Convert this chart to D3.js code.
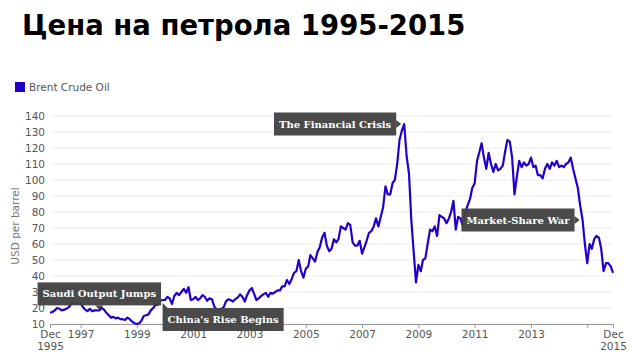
<!DOCTYPE html>
<html>
<head>
<meta charset="utf-8">
<script src="https://cdn.jsdelivr.net/npm/d3@7"></script>
<style>
  body { margin: 0; background: #fff; }
  svg { display: block; }
</style>
</head>
<body>
<svg id="chart" width="632" height="355"></svg>
<script>
// Monthly Brent price, starting Dec 1995
const firstMonth = new Date(1995, 11, 1);
const brent = [
  17,
  17.5, 18.5, 20, 19.5, 18.5, 19, 19.5, 20.5, 22.5, 23.5, 22.5, 23.5,
  23, 20.5, 19, 18, 19.5, 18, 18.5, 18.5, 18.5, 20, 19, 17,
  15.5, 14, 14.5, 13.5, 14, 13, 13, 12.5, 14, 13, 11.5, 10.5,
  10, 10.5, 12, 15, 15.5, 16, 18.5, 20, 22, 22, 24.5, 25,
  25, 27, 26, 22.5, 27.5, 29.5, 28, 30, 32, 29.5, 33, 25,
  25.5, 27, 25, 26, 28, 27, 24.5, 26, 25.5, 21, 19, 19,
  19.5, 20.5, 24, 25.5, 25, 24, 25.5, 26.5, 28.5, 27, 24, 28,
  31, 32.5, 29, 25, 26, 27.5, 28.5, 29.5, 27, 29.5, 29, 30,
  31, 31, 33.5, 33.5, 37.5, 35, 38, 42, 43, 50, 43, 39,
  44.5, 46, 53, 51, 49, 55, 58, 64, 67, 59, 55.5, 57,
  63, 61, 63, 71, 70, 69, 73, 72, 61, 59, 59, 62,
  54, 58, 62, 67, 68, 71, 76, 71, 77, 83, 96, 91,
  91, 98, 100, 110, 125, 131, 135, 115, 104, 75, 55, 36,
  47, 43, 50, 51, 60, 69, 68, 71, 65, 78, 77, 76,
  73, 76, 80, 87, 69, 77, 76, 71, 80, 84, 88, 95,
  98, 112, 117, 123, 114, 107, 117, 110, 105, 110, 106, 107,
  109, 118, 125, 124, 114, 91, 102, 112, 108, 111, 109, 110,
  114, 108, 109, 103, 103, 101, 107, 110, 107, 111, 109, 112,
  108, 109, 108, 110, 111, 114, 107, 101, 95, 84, 75, 60,
  48, 60, 57, 63, 65, 64, 57, 43, 48, 48, 46, 42
];

const yTicks = [10, 20, 30, 40, 50, 60, 70, 80, 90, 100, 110, 120, 130, 140];
const xTickMonths = ["1995-12", "1997-01", "1999-01", "2001-01", "2003-01", "2005-01", "2007-01",
                     "2009-01", "2011-01", "2013-01", "2015-01", "2015-12"];
const xTickLabels = ["Dec|1995", "1997", "1999", "2001", "2003", "2005", "2007",
                     "2009", "2011", "2013", "", "Dec|2015"];

const noteLabels = ["Saudi Output Jumps", "China's Rise Begins", "The Financial Crisis", "Market-Share War"];
const noteMonths = ["1997-09", "1999-12", "2008-07", "2014-11"];
const noteSides = ["top", "below-right", "left", "left"];

const parseMonth = d3.timeParse("%Y-%m");
const data = brent.map((v, i) => ({ date: d3.timeMonth.offset(firstMonth, i), value: v }));

const svg = d3.select("#chart");
const lineColor = "#2200cc";

const x = d3.scaleTime()
    .domain([firstMonth, d3.timeMonth.offset(firstMonth, brent.length - 1)])
    .range([50, 613]);
const y = d3.scaleLinear().domain([10, 140]).range([324, 116]);

// title
svg.append("text")
    .attr("x", 22).attr("y", 35)
    .attr("font-family", "DejaVu Sans")
    .attr("font-weight", "bold")
    .attr("font-size", 27.5)
    .attr("fill", "#000")
    .text("Цена на петрола 1995-2015");

// legend
svg.append("rect").attr("x", 15).attr("y", 82).attr("width", 10).attr("height", 10).attr("fill", lineColor);
svg.append("text")
    .attr("x", 29).attr("y", 91)
    .attr("font-family", "DejaVu Sans").attr("font-size", 10.5).attr("fill", "#555")
    .text("Brent Crude Oil");

// grid + y labels
const gy = svg.append("g");
gy.selectAll("line").data(yTicks).join("line")
    .attr("x1", 50).attr("x2", 613)
    .attr("y1", d => y(d)).attr("y2", d => y(d))
    .attr("stroke", "#ececec").attr("stroke-width", 1);
gy.selectAll("text").data(yTicks).join("text")
    .attr("x", 45).attr("y", d => y(d)).attr("dy", "0.35em")
    .attr("text-anchor", "end")
    .attr("font-family", "DejaVu Sans").attr("font-size", 10.5).attr("fill", "#555")
    .text(d => d);

svg.append("text")
    .attr("transform", "translate(19,226) rotate(-90)")
    .attr("text-anchor", "middle")
    .attr("font-family", "DejaVu Sans").attr("font-size", 10.5).attr("fill", "#777")
    .text("USD per barrel");

// x axis
const xAxis = d3.axisBottom(x)
    .tickValues(xTickMonths.map(parseMonth))
    .tickSize(4)
    .tickFormat((d, i) => xTickLabels[i]);
const gx = svg.append("g").attr("transform", `translate(0,${y(10)})`).call(xAxis);
gx.select(".domain").attr("stroke", "#999");
gx.selectAll(".tick line").attr("stroke", "#999");
gx.selectAll(".tick text")
    .attr("font-family", "DejaVu Sans").attr("font-size", 10.5).attr("fill", "#555")
    .each(function (d, i) {
        const parts = xTickLabels[i].split("|");
        const t = d3.select(this).text(null).attr("y", 7);
        parts.forEach((p, k) => t.append("tspan").attr("x", 0).attr("dy", k ? "1.1em" : "0.71em").text(p));
    });

// line
const line = d3.line().x(d => x(d.date)).y(d => y(d.value));
svg.append("path")
    .datum(data)
    .attr("fill", "none")
    .attr("stroke", lineColor)
    .attr("stroke-width", 2.2)
    .attr("stroke-linejoin", "round")
    .attr("d", line);

// annotations
const boxH = 23, padX = 5;
noteLabels.forEach((label, i) => {
    const date = parseMonth(noteMonths[i]);
    const pt = data.find(d => +d.date === +date);
    const ax = x(pt.date), ay = y(pt.value);
    const g = svg.append("g");
    const rect = g.append("rect").attr("fill", "#444").attr("fill-opacity", 0.97);
    const txt = g.append("text")
        .attr("font-family", "DejaVu Serif").attr("font-weight", "bold")
        .attr("font-size", 10).attr("fill", "#fff")
        .text(label);
    const w = txt.node().getComputedTextLength() + padX * 2;
    let bx, by, tri;
    if (noteSides[i] === "left") {
        bx = ax - 8 - w; by = ay - boxH / 2;
        const ex = ax - 8;
        tri = [[ex, ay - 4], [ex + 5, ay], [ex, ay + 4]];
    } else if (noteSides[i] === "top") {
        bx = ax - w / 2; by = ay - 5 - boxH;
        const ey = ay - 5;
        tri = [[ax - 4, ey], [ax, ey + 4], [ax + 4, ey]];
    } else {
        bx = ax; by = ay + 8;
        tri = [[ax, by], [ax, by - 5], [ax + 5, by]];
    }
    rect.attr("x", bx).attr("y", by).attr("width", w).attr("height", boxH);
    txt.attr("x", bx + padX).attr("y", by + boxH / 2).attr("dy", "0.35em");
    g.append("path").attr("d", d3.line()(tri) + "Z").attr("fill", "#444");
});
</script>
</body>
</html>
